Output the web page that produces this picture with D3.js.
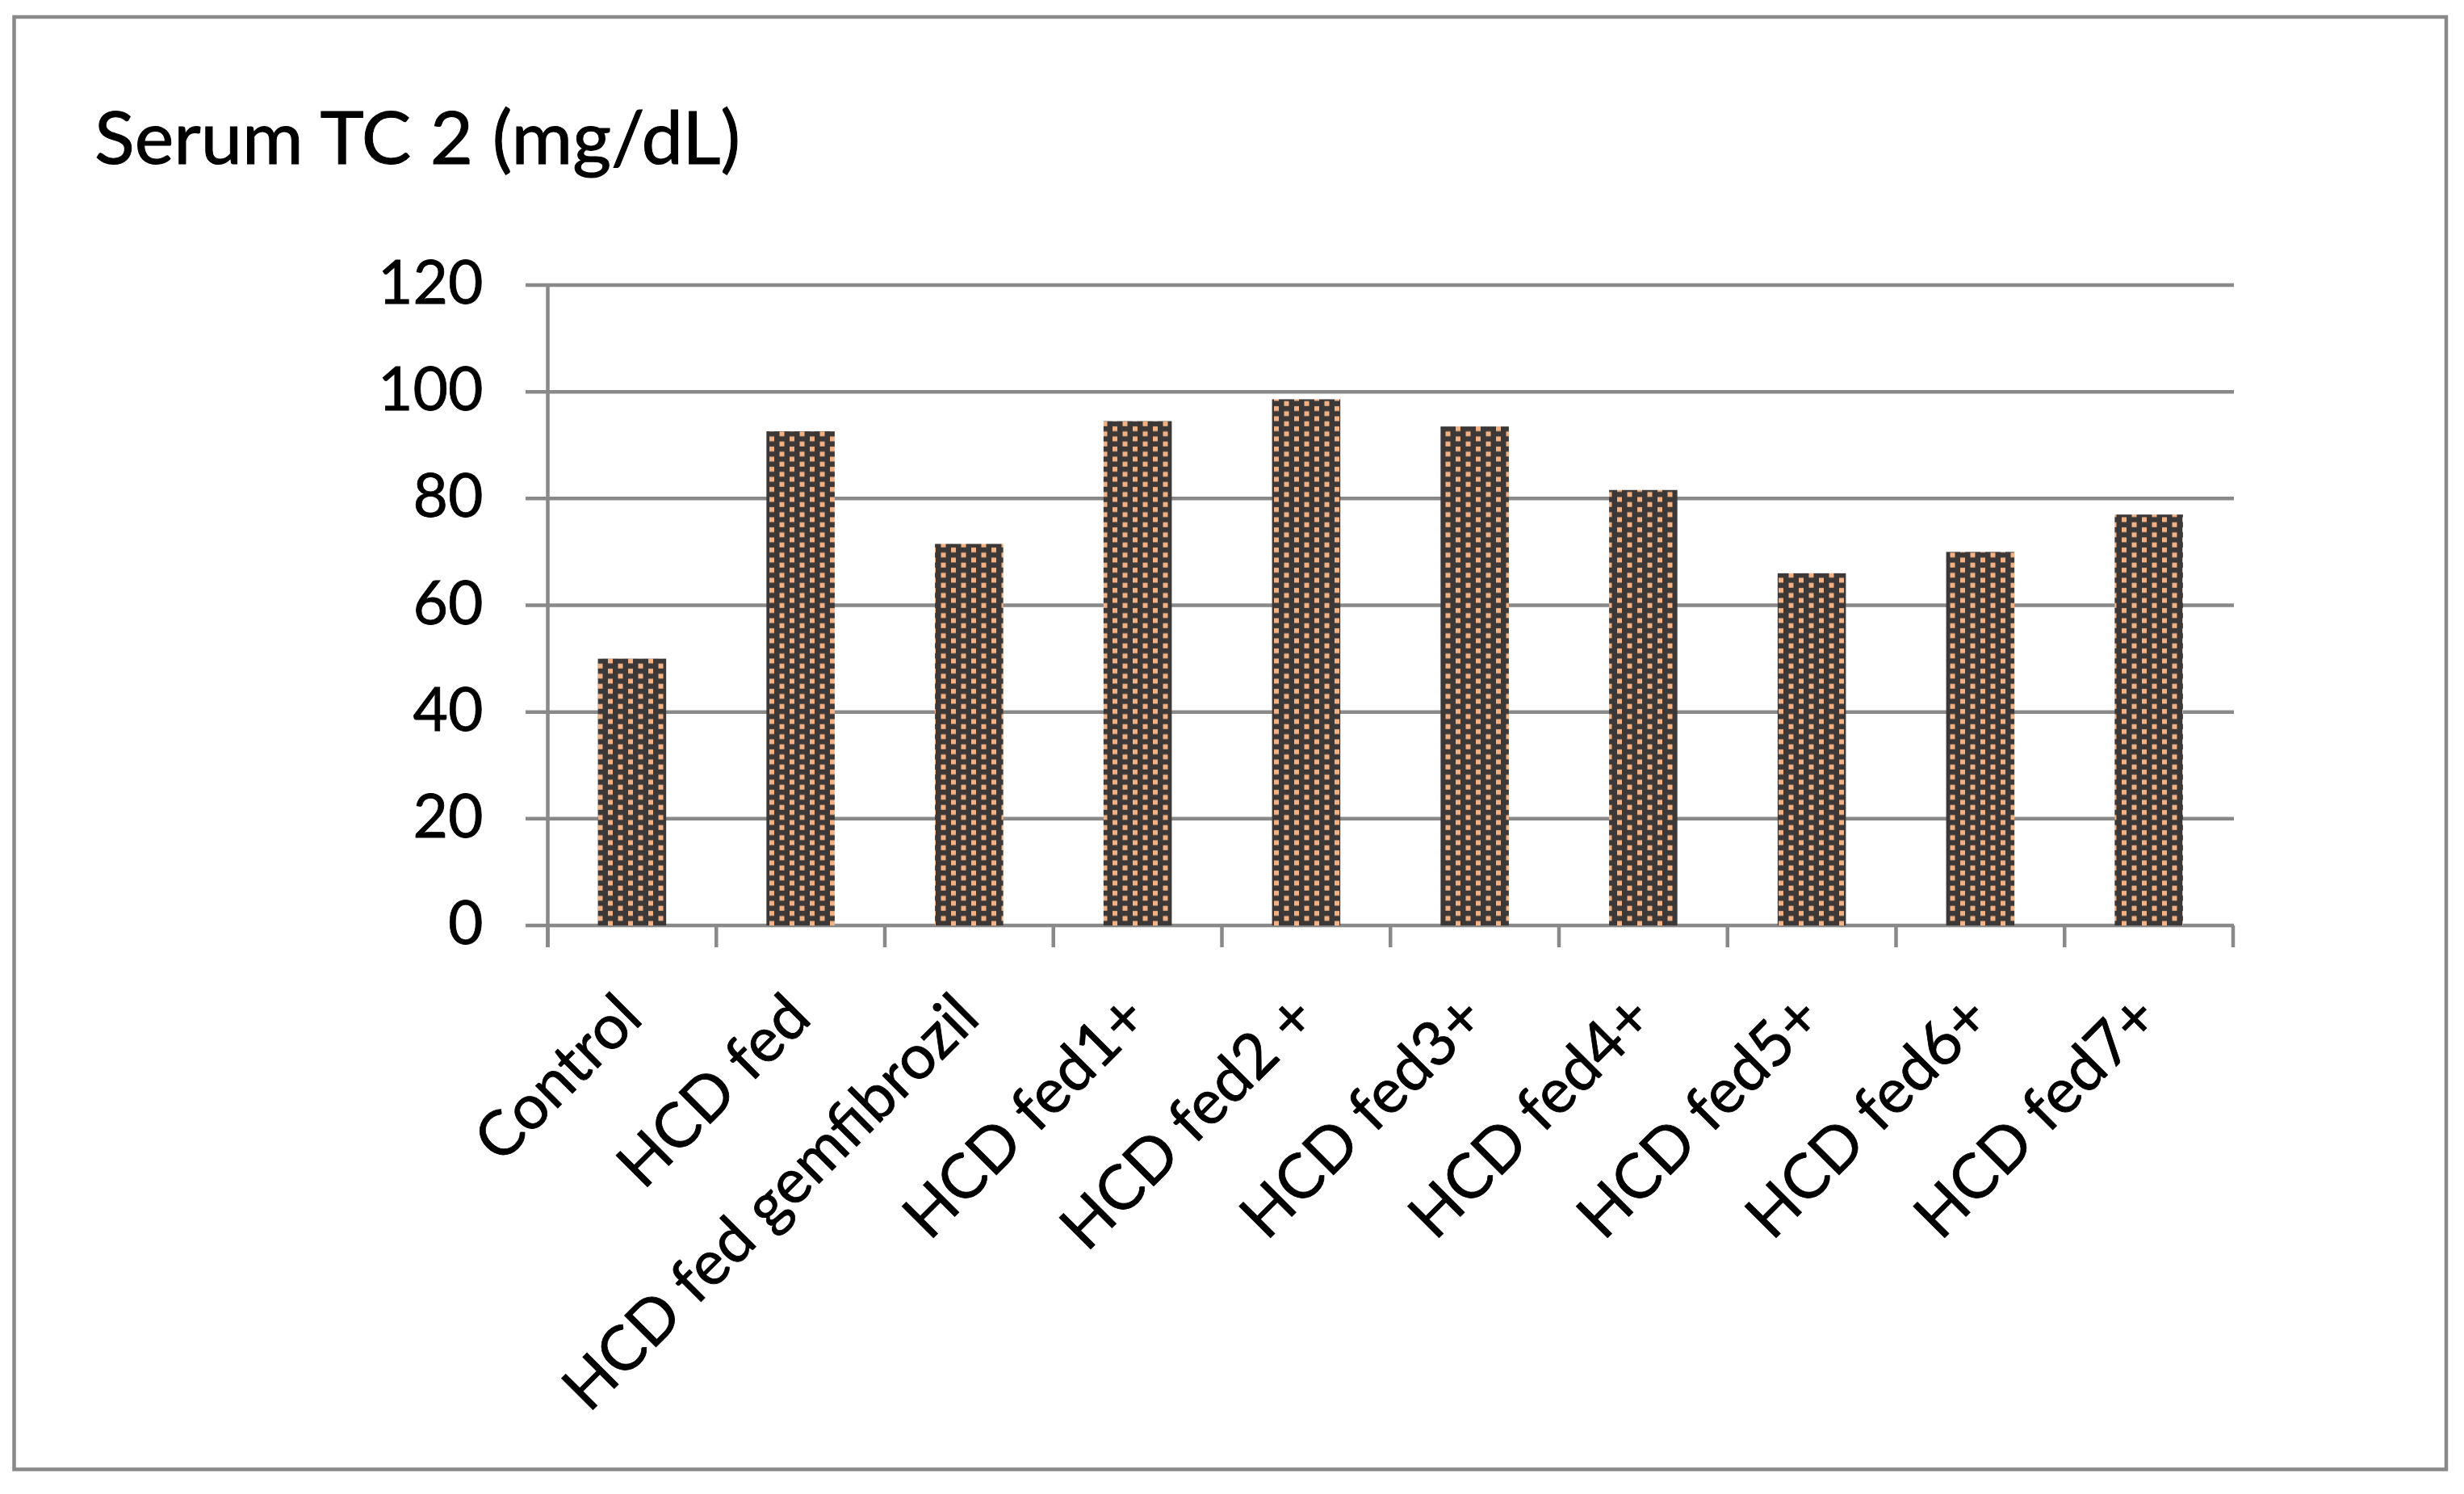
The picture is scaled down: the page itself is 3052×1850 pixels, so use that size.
<!DOCTYPE html>
<html>
<head>
<meta charset="utf-8">
<script src="https://cdn.jsdelivr.net/npm/d3@7"></script>
<style>
  html, body { margin: 0; padding: 0; background: #ffffff; }
  svg { display: block; }
</style>
</head>
<body>
<script>
const categories = ["Control", "HCD fed", "HCD fed gemfibrozil", "HCD fed1+", "HCD fed2 +",
                    "HCD fed3+", "HCD fed4+", "HCD fed5+", "HCD fed6+", "HCD fed7+"];
const values = [50, 92.6, 71.5, 94.5, 98.6, 93.5, 81.6, 66, 70, 77];
const yTicks = [0, 20, 40, 60, 80, 100, 120];
const titleText = "Serum TC 2 (mg/dL)";

const W = 3052, H = 1850;
const FONT = "Lato, 'Open Sans', sans-serif";
const GRID = "#898989";

const svg = d3.select("body").append("svg")
  .attr("width", W).attr("height", H);

// pattern
const defs = svg.append("defs");
const pat = defs.append("pattern")
  .attr("id", "dots").attr("patternUnits", "userSpaceOnUse")
  .attr("width", 25).attr("height", 12.5);
pat.append("rect").attr("width", 25).attr("height", 12.5).attr("fill", "#3b3837");
pat.append("rect").attr("x", 3).attr("y", 3).attr("width", 6).attr("height", 6).attr("fill", "#f4b183");
pat.append("rect").attr("x", 15.5).attr("y", 9.25).attr("width", 6).attr("height", 6).attr("fill", "#f4b183");
pat.append("rect").attr("x", 15.5).attr("y", -3.25).attr("width", 6).attr("height", 6).attr("fill", "#f4b183");

// outer border
svg.append("rect")
  .attr("x", 17.5).attr("y", 21).attr("width", 3030 - 17.5).attr("height", 1819.5 - 21)
  .attr("fill", "none").attr("stroke", GRID).attr("stroke-width", 4.5);

// title
svg.append("text")
  .attr("x", 117).attr("y", 203)
  .attr("font-family", FONT).attr("font-size", 92)
  .attr("fill", "#000").attr("stroke", "#000").attr("stroke-width", 1)
  .text(titleText);

const x0 = 678.5, x1 = 2766, yTop = 353, yBot = 1146;
const x = d3.scaleBand().domain(categories).range([x0, x1])
  .paddingInner(0.595).paddingOuter(0.2975);
const y = d3.scaleLinear().domain([0, 120]).range([yBot, yTop]);

// gridlines
svg.append("g").selectAll("line").data(yTicks).join("line")
  .attr("x1", 651).attr("x2", x1 + 1)
  .attr("y1", d => y(d)).attr("y2", d => y(d))
  .attr("stroke", GRID).attr("stroke-width", 4.5);

// y labels via axis
const yAxis = svg.append("g")
  .attr("transform", `translate(${x0},0)`)
  .call(d3.axisLeft(y).tickValues(yTicks).tickSize(0).tickPadding(80));
yAxis.select(".domain").remove();
yAxis.selectAll("text")
  .attr("font-family", FONT).attr("font-size", 75).attr("fill", "#000")
  .attr("stroke", "#000").attr("stroke-width", 0.8)
  .attr("dy", "0.3em");

// bars
svg.append("g").selectAll("rect").data(values).join("rect")
  .attr("x", (d, i) => x(categories[i]))
  .attr("width", x.bandwidth())
  .attr("y", d => y(d))
  .attr("height", d => y(0) - y(d))
  .attr("fill", "url(#dots)");

// y axis line
svg.append("line")
  .attr("x1", x0).attr("x2", x0).attr("y1", yTop).attr("y2", yBot + 27)
  .attr("stroke", GRID).attr("stroke-width", 4.5);

// x tick marks at band boundaries
const bounds = d3.range(categories.length + 1).map(i => x0 + i * x.step());
svg.append("g").selectAll("line").data(bounds).join("line")
  .attr("x1", d => d).attr("x2", d => d)
  .attr("y1", yBot).attr("y2", yBot + 27)
  .attr("stroke", GRID).attr("stroke-width", 4.5);

// x labels
svg.append("g").selectAll("text").data(categories).join("text")
  .attr("transform", d => `translate(${x(d) + x.bandwidth() / 2 + 16},${yBot + 118}) rotate(-45)`)
  .attr("text-anchor", "end")
  .attr("font-family", FONT).attr("font-size", 77).attr("fill", "#000")
  .attr("stroke", "#000").attr("stroke-width", 0.8)
  .text(d => d);
</script>
</body>
</html>
